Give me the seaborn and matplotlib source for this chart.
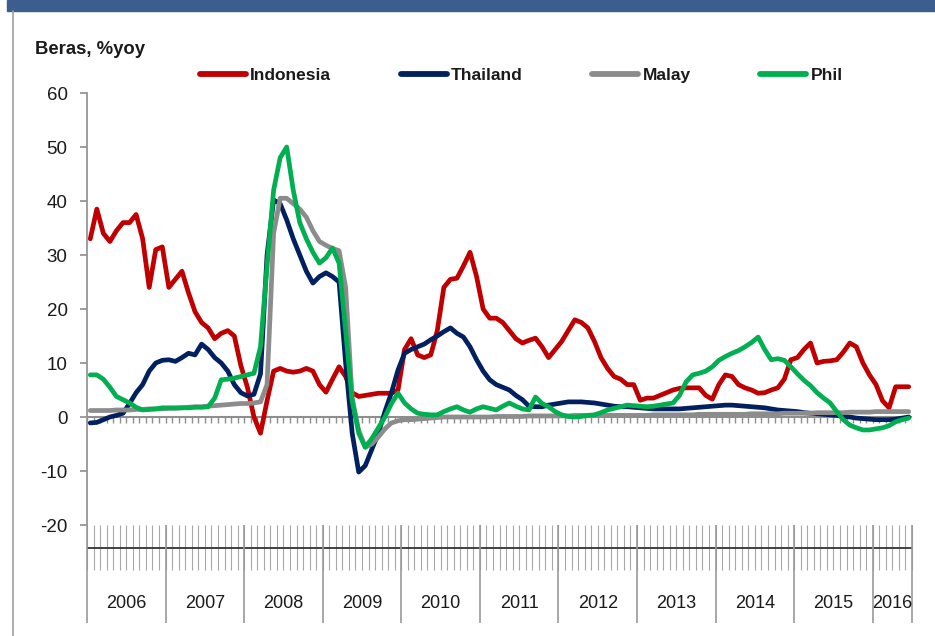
import numpy as np
import pandas as pd
import matplotlib
matplotlib.use("Agg")
import matplotlib.pyplot as plt
import seaborn as sns
from matplotlib.patches import Rectangle
from matplotlib.lines import Line2D

# monthly data, Jan 2006 .. Jun 2016
years = [2006, 2007, 2008, 2009, 2010, 2011, 2012, 2013, 2014, 2015, 2016]
series_names = ["Indonesia", "Thailand", "Malay", "Phil"]

indonesia = [
    33, 38.5, 34, 32.5, 34.5, 36, 36, 37.5, 33, 24, 31, 31.5,
    24, 25.5, 27, 23, 19.5, 17.5, 16.5, 14.5, 15.5, 16, 15, 9.5,
    5.5, 0, -3, 3, 8.5, 9, 8.5, 8.3, 8.5, 9, 8.5, 6,
    4.6, 7, 9.3, 7.5, 4.5, 3.8, 4, 4.2, 4.4, 4.4, 4.4, 5,
    12.5, 14.5, 11.5, 11, 11.5, 16, 24, 25.5, 25.7, 28, 30.5, 26,
    20, 18.3, 18.3, 17.5, 16, 14.5, 13.7, 14.2, 14.6, 13, 11, 12.5,
    14, 16, 18, 17.5, 16.5, 14, 11, 9, 7.5, 7, 6, 6,
    3.1, 3.5, 3.5, 4, 4.5, 5, 5.3, 5.4, 5.4, 5.4, 4, 3.3,
    6, 7.8, 7.5, 6, 5.4, 5, 4.4, 4.5, 5, 5.4, 7, 10.6,
    11, 12.5, 13.7, 10, 10.3, 10.4, 10.6, 12, 13.7, 13, 10, 7.8,
    6, 3, 1.7, 5.6, 5.6, 5.6,
]

thailand = [
    -1.1, -1, -0.5, 0, 0.3, 0.7, 2.5, 4.5, 6, 8.5, 10, 10.5,
    10.6, 10.3, 11, 11.8, 11.5, 13.5, 12.5, 11, 10, 8.5, 6, 4.5,
    3.9, 4.2, 8, 30, 40.2, 39.5, 36.5, 33, 30, 27, 24.8, 26,
    26.7, 26, 25, 10, -3, -10.2, -9, -6, -3, 1, 4.5, 8.7,
    11.8, 12.5, 13, 13.5, 14.3, 15, 15.8, 16.5, 15.5, 14.8, 13, 10.6,
    8.5, 6.9, 6, 5.5, 5, 4, 3.2, 2, 1.9, 1.9, 2.2, 2.4,
    2.6, 2.8, 2.8, 2.8, 2.7, 2.6, 2.4, 2.2, 2, 1.9, 1.9, 1.8,
    1.7, 1.6, 1.5, 1.5, 1.5, 1.5, 1.5, 1.6, 1.7, 1.8, 1.9, 2,
    2.1, 2.2, 2.2, 2.1, 2, 1.9, 1.8, 1.7, 1.5, 1.3, 1.2, 1.1,
    1, 0.8, 0.7, 0.6, 0.5, 0.4, 0.3, 0.1, 0, -0.2, -0.3, -0.4,
    -0.5, -0.5, -0.5, -0.4, -0.2, 0,
]

malay = [
    1.2, 1.2, 1.2, 1.2, 1.3, 1.3, 1.3, 1.4, 1.4, 1.5, 1.5, 1.5,
    1.6, 1.6, 1.7, 1.8, 1.9, 1.9, 2, 2.1, 2.2, 2.3, 2.4, 2.5,
    2.5, 2.6, 2.8, 6, 34, 40.5, 40.5, 39.5, 38.5, 37, 34.5, 32.5,
    31.8, 31.2, 30.8, 24, 3.5, -2.5, -5.6, -5, -3.7, -2.2, -1.1, -0.7,
    -0.5, -0.5, -0.4, -0.3, -0.2, -0.1, 0, 0, 0, 0, 0, 0,
    0, 0, 0.1, 0.1, 0.1, 0.1, 0.1, 0.2, 0.2, 0.2, 0.2, 0.2,
    0.2, 0.2, 0.3, 0.3, 0.3, 0.3, 0.3, 0.3, 0.3, 0.3, 0.3, 0.3,
    0.3, 0.3, 0.4, 0.4, 0.4, 0.4, 0.4, 0.4, 0.4, 0.5, 0.5, 0.5,
    0.5, 0.5, 0.5, 0.5, 0.5, 0.6, 0.6, 0.6, 0.6, 0.6, 0.7, 0.7,
    0.7, 0.7, 0.7, 0.8, 0.8, 0.8, 0.8, 0.8, 0.9, 0.9, 0.9, 0.9,
    1, 1, 1, 1, 1, 1,
]

phil = [
    7.8, 7.8, 7, 5.5, 3.8, 3.2, 2.6, 1.8, 1.3, 1.4, 1.5, 1.7,
    1.7, 1.7, 1.7, 1.7, 1.8, 1.8, 1.9, 3.5, 6.9, 7, 7.2, 7.5,
    7.8, 8.1, 13, 28, 42, 48, 50, 42, 36, 33, 30.5, 28.5,
    29.5, 31.3, 28.5, 16, 3, -3, -5.6, -4, -2, 0, 2.5, 4.4,
    2.6, 1.5, 0.7, 0.5, 0.4, 0.4, 1, 1.5, 1.9, 1.3, 0.9, 1.5,
    1.9, 1.6, 1.3, 2, 2.6, 2, 1.5, 1.3, 3.7, 2.5, 1.9, 1,
    0.4, 0.1, 0, 0.1, 0.3, 0.4, 0.8, 1.3, 1.6, 1.9, 2.2, 2.1,
    2, 1.9, 2, 2.2, 2.4, 2.6, 4, 6.5, 7.8, 8.1, 8.5, 9.3,
    10.5, 11.2, 11.8, 12.3, 13, 13.8, 14.8, 12.5, 10.6, 10.8, 10.5, 9.3,
    8, 6.8, 5.8, 4.5, 3.5, 2.6, 1, -0.5, -1.5, -2, -2.4, -2.4,
    -2.2, -2, -1.6, -0.9, -0.5, -0.2,
]

colors = {"Indonesia": "#C00000", "Thailand": "#002060",
          "Malay": "#8C8C8C", "Phil": "#00B050"}

n = len(indonesia)
df = pd.DataFrame({
    "month": np.arange(n) + 0.5,
    "Indonesia": indonesia,
    "Thailand": thailand,
    "Malay": malay,
    "Phil": phil,
})
long_df = df.melt(id_vars="month", var_name="series", value_name="value")

sns.set_style("white")
plt.rcParams["font.family"] = ["Liberation Sans", "DejaVu Sans"]
plt.rcParams["axes.unicode_minus"] = False

W, H = 935, 636
fig = plt.figure(figsize=(W / 100, H / 100), dpi=100)
ax = fig.add_axes([87 / W, 1 - 525 / H, (912 - 87) / W, (525 - 93) / H])

sns.lineplot(data=long_df, x="month", y="value", hue="series",
             hue_order=series_names, palette=colors, linewidth=3.4,
             ax=ax, legend=False, sort=False)
for ln in ax.lines:
    ln.set_solid_capstyle("round")
    ln.set_solid_joinstyle("round")

axis_grey = "#8E8E8E"
ax.set_xlim(0, n)
ax.set_ylim(-20, 60)
ax.set_yticks(range(-20, 61, 10))
ax.set_xticks([])
ax.set_xlabel("")
ax.set_ylabel("")
for side in ["top", "right", "bottom"]:
    ax.spines[side].set_visible(False)
ax.spines["left"].set_color(axis_grey)
ax.spines["left"].set_linewidth(1.2)
ax.tick_params(axis="y", left=True, length=5, width=1.2, color=axis_grey,
               labelsize=13.5, pad=9, labelcolor="#1a1a1a")

# zero line with monthly tick marks
bounds = np.arange(0, n + 1)
ax.axhline(0, color=axis_grey, lw=1.5, zorder=1)
ax.vlines(bounds, -1.1, 0, color=axis_grey, lw=1, zorder=1)

# category axis area below the plot
ax.vlines(bounds, -20, -28.3, color="#A8A8A8", lw=0.8, clip_on=False)
ax.hlines(-24.3, 0, n, color="#333333", lw=1.3, clip_on=False)
year_edges = [12 * k for k in range(len(years))] + [n]
ax.vlines(year_edges, -20, -38.1, color="#999999", lw=1.2, clip_on=False)
for k, yr in enumerate(years):
    mid = (year_edges[k] + year_edges[k + 1]) / 2
    ax.text(mid, -34.6, str(yr), ha="center", va="center", fontsize=13,
            color="#1a1a1a", clip_on=False)

fig.text(35 / W, 1 - 49 / H, "Beras, %yoy", fontsize=13.3, fontweight="bold",
         ha="left", va="center", color="#1a1a1a")

handles = [Line2D([0], [0], color=colors[s], lw=4.2, solid_capstyle="round")
           for s in series_names]
leg = fig.legend(handles, series_names, loc="center left",
                 bbox_to_anchor=(200 / W, 1 - 75 / H), ncol=4, frameon=False,
                 borderpad=0, borderaxespad=0, handlelength=2.65,
                 handletextpad=0.25, columnspacing=4.0,
                 prop={"size": 12.5, "weight": "bold"})
for t in leg.get_texts():
    t.set_color("#1a1a1a")

# slide frame: blue header strip and left border
fig.patches.append(Rectangle((7 / W, 1 - 11 / H), 1, 11 / H,
                             transform=fig.transFigure, color="#3B5E8E"))
fig.add_artist(Line2D([13 / W, 13 / W], [0, 1 - 11 / H],
                      transform=fig.transFigure, color="#A0A0A0", lw=1.2))

fig.savefig("out.png", dpi=100)
